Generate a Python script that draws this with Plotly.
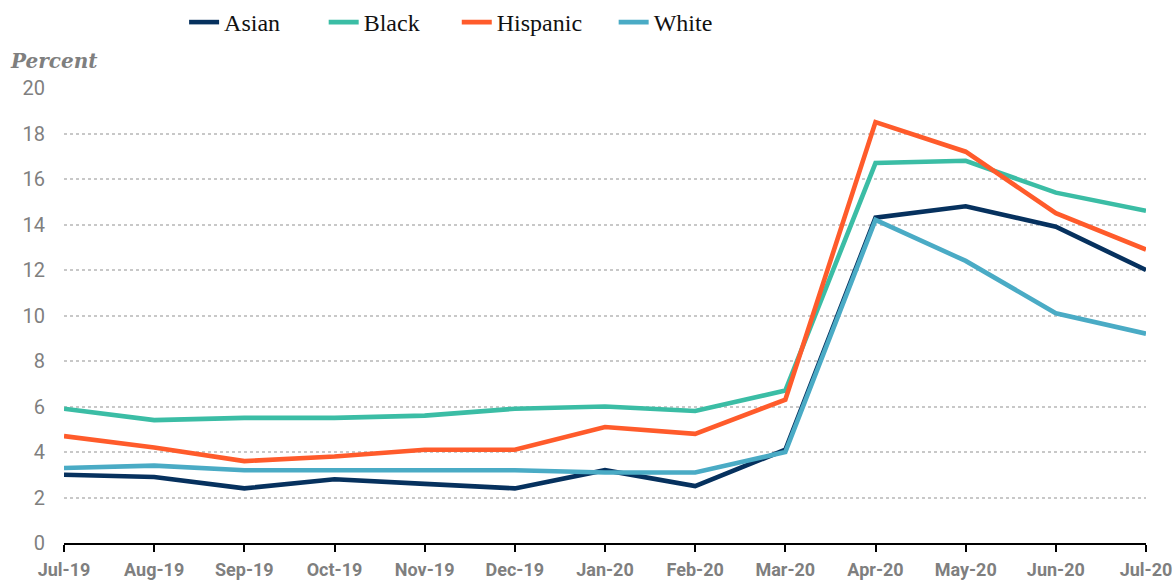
import plotly.graph_objects as go

months = ["Jul-19", "Aug-19", "Sep-19", "Oct-19", "Nov-19", "Dec-19", "Jan-20",
          "Feb-20", "Mar-20", "Apr-20", "May-20", "Jun-20", "Jul-20"]
asian = [3.0, 2.9, 2.4, 2.8, 2.6, 2.4, 3.2, 2.5, 4.1, 14.3, 14.8, 13.9, 12.0]
black = [5.9, 5.4, 5.5, 5.5, 5.6, 5.9, 6.0, 5.8, 6.7, 16.7, 16.8, 15.4, 14.6]
hispanic = [4.7, 4.2, 3.6, 3.8, 4.1, 4.1, 5.1, 4.8, 6.3, 18.5, 17.2, 14.5, 12.9]
white = [3.3, 3.4, 3.2, 3.2, 3.2, 3.2, 3.1, 3.1, 4.0, 14.2, 12.4, 10.1, 9.2]
y_ticks = [0, 2, 4, 6, 8, 10, 12, 14, 16, 18, 20]

series = [("Asian", asian, "#06315E"), ("Black", black, "#3BBDA5"),
          ("Hispanic", hispanic, "#FF5B2B"), ("White", white, "#4AABC5")]
legend_ids = ["legend", "legend2", "legend3", "legend4"]
legend_x = [0.111, 0.240, 0.363, 0.508]

fig = go.Figure()
for (name, vals, col), lid in zip(series, legend_ids):
    fig.add_trace(go.Scatter(x=months, y=vals, name=name, mode="lines",
                             line=dict(color=col, width=4.6), legend=lid))

legend_style = dict(orientation="h", xanchor="left", y=1.0, yanchor="top",
                    yref="container",
                    font=dict(family="Liberation Serif", size=24, color="#111111"),
                    itemwidth=30, bgcolor="rgba(0,0,0,0)")
layout_legends = {lid: dict(legend_style, x=lx) for lid, lx in zip(legend_ids, legend_x)}

fig.update_layout(
    width=1176, height=582,
    margin=dict(l=64, r=30, t=88, b=39),
    plot_bgcolor="white", paper_bgcolor="white",
    showlegend=True,
    xaxis=dict(range=[0, 12], showgrid=False, showline=True, linecolor="black",
               linewidth=2, ticks="outside", ticklen=7, tickwidth=2, tickcolor="black",
               tickfont=dict(family="Roboto", size=18, color="#7f7f7f", weight="bold"),
               ticklabelstandoff=2, zeroline=False, automargin=False),
    yaxis=dict(range=[0, 20], tickvals=y_ticks, showgrid=True, gridcolor="#c8c8c8",
               griddash="dot", gridwidth=2, zeroline=False, showline=False,
               tickfont=dict(family="Roboto", size=20, color="#7f7f7f"),
               ticklabelstandoff=18, automargin=False),
    **layout_legends,
)
fig.add_annotation(text="<b><i>Percent</i></b>", xref="paper", yref="paper",
                   x=-0.052, y=1.028, xanchor="left", yanchor="bottom", showarrow=False,
                   font=dict(family="DejaVu Serif", size=20, color="#7f7f7f"))
fig.write_html("out.html")
